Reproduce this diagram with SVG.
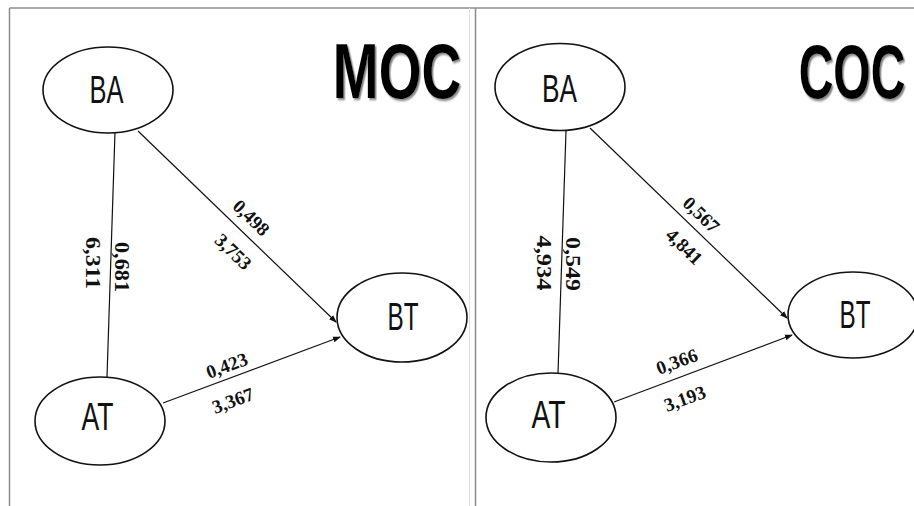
<svg xmlns="http://www.w3.org/2000/svg" width="914" height="506" viewBox="0 0 914 506">
<defs>
<marker id="arr" markerUnits="userSpaceOnUse" markerWidth="8" markerHeight="8" viewBox="0 0 8 8" refX="7" refY="4" orient="auto">
<path d="M0,1 L8,4 L0,7 Z" fill="#111"/>
</marker>
<filter id="shadow" x="-5%" y="-5%" width="110%" height="115%">
<feDropShadow dx="1.5" dy="1.4" stdDeviation="0.6" flood-color="#777" flood-opacity="0.9"/>
</filter>
<style>
.node ellipse{fill:#fff;stroke:#111;stroke-width:1.6}
.node text{font-family:"Liberation Sans",Arial,sans-serif;font-size:39px;fill:#111;text-anchor:middle}
.edge{stroke:#111;stroke-width:1.2;fill:none}
.lbl{font-family:"Liberation Serif","Times New Roman",serif;font-weight:bold;font-size:19px;fill:#111;text-anchor:middle}
.vlbl{font-family:"Liberation Serif","Times New Roman",serif;font-weight:bold;font-size:21px;fill:#111;text-anchor:middle}
.title{font-family:"Liberation Sans",Arial,sans-serif;font-weight:bold;text-anchor:middle;fill:#000;filter:url(#shadow)}
.frame{stroke:#8c8c8c;stroke-width:1.5}
</style>
</defs>
<rect width="914" height="506" fill="#fff"/>
<g id="frame">
<line class="frame" x1="9.5" y1="8" x2="914" y2="8"/>
<line class="frame" x1="9.5" y1="8" x2="9.5" y2="506" stroke="#555"/>
<line x1="469.5" y1="8" x2="469.5" y2="506" stroke="#e0e0e0" stroke-width="1"/>
<line class="frame" x1="475.5" y1="8" x2="475.5" y2="506" stroke-width="2"/>
</g>
<g id="titles">
<text class="title" transform="translate(397,98) scale(1,1.42)" font-size="55">MOC</text>
<text class="title" transform="translate(852,98) scale(1,1.6)" font-size="48">COC</text>
</g>
<g id="connectors">
<line class="edge" x1="115" y1="132" x2="107" y2="377"/>
<line class="edge" x1="138" y1="131" x2="336" y2="322" marker-end="url(#arr)"/>
<line class="edge" x1="163" y1="403" x2="340" y2="337" stroke-width="1.6" marker-end="url(#arr)"/>
<line class="edge" x1="566" y1="131" x2="558" y2="373"/>
<line class="edge" x1="590" y1="128" x2="787" y2="318" marker-end="url(#arr)"/>
<line class="edge" x1="614" y1="402" x2="792" y2="335" stroke-width="1.6" marker-end="url(#arr)"/>
</g>
<g id="labels">
<text class="vlbl" transform="translate(93,263) rotate(90)" y="7" textLength="52" lengthAdjust="spacingAndGlyphs">6,311</text>
<text class="vlbl" transform="translate(122,267) rotate(90)" y="7" textLength="50" lengthAdjust="spacingAndGlyphs">0,681</text>
<text class="lbl" transform="translate(251,218) rotate(44)" y="6">0,498</text>
<text class="lbl" transform="translate(233,252) rotate(44)" y="6">3,753</text>
<text class="lbl" transform="translate(227,366) rotate(-20)" y="6">0,423</text>
<text class="lbl" transform="translate(233,401) rotate(-20)" y="6">3,367</text>
<text class="vlbl" transform="translate(544,263) rotate(90)" y="7" textLength="55" lengthAdjust="spacingAndGlyphs">4,934</text>
<text class="vlbl" transform="translate(573,264) rotate(90)" y="7" textLength="54" lengthAdjust="spacingAndGlyphs">0,549</text>
<text class="lbl" transform="translate(701,215) rotate(44)" y="6">0,567</text>
<text class="lbl" transform="translate(684,247) rotate(44)" y="6">4,841</text>
<text class="lbl" transform="translate(677,362) rotate(-20)" y="6">0,366</text>
<text class="lbl" transform="translate(685,399) rotate(-20)" y="6">3,193</text>
</g>
<g id="moc-ba" class="node"><ellipse cx="108" cy="90" rx="65" ry="43"/><text x="106.5" y="103" textLength="34" lengthAdjust="spacingAndGlyphs">BA</text></g>
<g id="moc-at" class="node"><ellipse cx="100" cy="421" rx="65" ry="44"/><text x="97.5" y="430" textLength="32" lengthAdjust="spacingAndGlyphs">AT</text></g>
<g id="moc-bt" class="node"><ellipse cx="402" cy="317.5" rx="65" ry="44.5"/><text x="403" y="330" textLength="31" lengthAdjust="spacingAndGlyphs">BT</text></g>
<g id="coc-ba" class="node"><ellipse cx="560" cy="87" rx="65" ry="43.5"/><text x="559.5" y="102" textLength="35" lengthAdjust="spacingAndGlyphs">BA</text></g>
<g id="coc-at" class="node"><ellipse cx="551" cy="417.5" rx="65" ry="44.5"/><text x="548.5" y="428" textLength="34" lengthAdjust="spacingAndGlyphs">AT</text></g>
<g id="coc-bt" class="node"><ellipse cx="853" cy="315" rx="65" ry="43"/><text x="855" y="328" textLength="31" lengthAdjust="spacingAndGlyphs">BT</text></g>
</svg>
